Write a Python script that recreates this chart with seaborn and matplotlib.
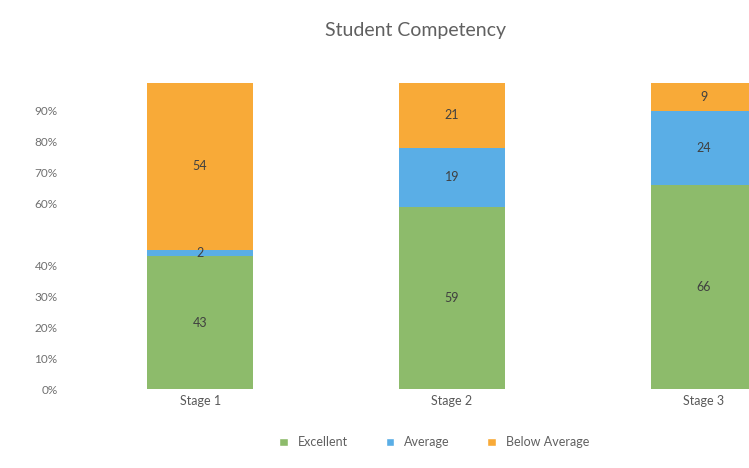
import numpy as np
import pandas as pd
import matplotlib
matplotlib.use("Agg")
import matplotlib.pyplot as plt
from matplotlib.patches import Patch
import seaborn as sns

# data
stages = ["Stage 1", "Stage 2", "Stage 3"]
excellent = [43, 59, 66]
average = [2, 19, 24]
below_average = [54, 21, 9]
y_ticks = [0, 10, 20, 30, 40, 60, 70, 80, 90]

colors = {"Excellent": "#8dbb6b", "Average": "#5aaee6", "Below Average": "#f8aa38"}


def main():
    sns.set_style("white")
    plt.rcParams["font.family"] = ["Lato", "DejaVu Sans"]

    df = pd.DataFrame({
        "stage": stages,
        "Excellent": excellent,
        "Average": average,
        "Below Average": below_average,
    })
    df["top_avg"] = df["Excellent"] + df["Average"]
    df["top_all"] = df["top_avg"] + df["Below Average"]

    fig = plt.figure(figsize=(7.49, 4.68), dpi=100)
    ax = fig.add_axes([0.099, 0.168, 1.009, 0.662])

    # stacked by drawing cumulative heights, tallest first
    bar_kw = dict(width=0.42, saturation=1, linewidth=0, ax=ax)
    sns.barplot(data=df, x="stage", y="top_all", color=colors["Below Average"], **bar_kw)
    sns.barplot(data=df, x="stage", y="top_avg", color=colors["Average"], **bar_kw)
    sns.barplot(data=df, x="stage", y="Excellent", color=colors["Excellent"], **bar_kw)

    for i, row in df.iterrows():
        segs = [(0, row["Excellent"]),
                (row["Excellent"], row["Average"]),
                (row["top_avg"], row["Below Average"])]
        for base, val in segs:
            ax.text(i, base + val / 2, f"{val}", ha="center", va="center",
                    fontsize=9, color="#404040")

    ax.set_ylim(0, 100)
    ax.set_xlim(-0.5, 2.5)
    ax.set_yticks(y_ticks)
    ax.set_yticklabels([f"{t}%" for t in y_ticks], fontsize=8.5, color="#707070")
    ax.tick_params(axis="x", labelsize=9, colors="#595959", length=0, pad=4)
    ax.tick_params(axis="y", length=0, pad=12)
    ax.set_xlabel("")
    ax.set_ylabel("")
    sns.despine(ax=ax, left=True, bottom=True)

    fig.text(0.555, 0.935, "Student Competency", ha="center", va="center",
             fontsize=14, color="#606060")

    handles = [Patch(facecolor=colors[k], label=k) for k in colors]
    fig.legend(handles=handles, loc="center", bbox_to_anchor=(0.58, 0.055), ncol=3,
               frameon=False, fontsize=9, handlelength=0.7, handleheight=0.7,
               columnspacing=3.0, labelcolor="#606060")

    fig.savefig("out.png", dpi=100)


main()
